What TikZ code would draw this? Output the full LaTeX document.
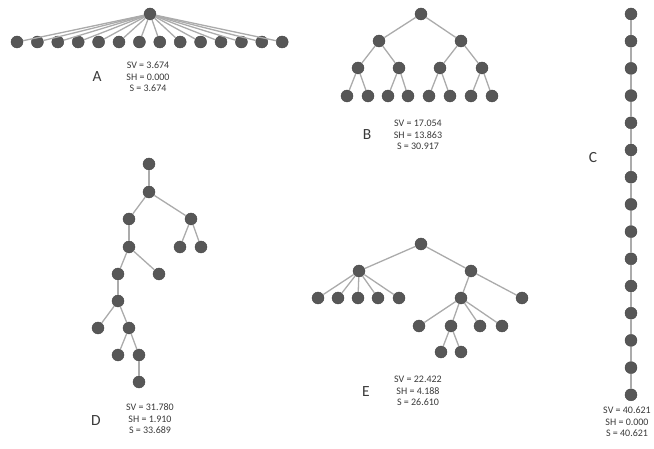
\documentclass[tikz,border=0pt]{standalone}
\usepackage{fontspec}
\setmainfont{Carlito}
\definecolor{vcol}{HTML}{575757}
\definecolor{ecol}{HTML}{ABABAB}
\definecolor{tcol}{HTML}{3A3A3A}
\begin{document}
\begin{tikzpicture}[x=1pt,y=-1pt,
 vtx/.style={circle,fill=vcol,draw=vcol!80!black,line width=0.4pt,minimum size=12pt,inner sep=0pt},
 edge/.style={draw=ecol,line width=1.3pt},
 tag/.style={font=\fontsize{15.5}{15.5}\selectfont,text=tcol,inner sep=0pt},
 stats/.style={font=\fontsize{10}{11.5}\selectfont,align=center,text=tcol,inner sep=0pt}]
\useasboundingbox (0,0) rectangle (654,449);
% ---------- A ----------
\node[vtx] (a0) at (150,14) {};
\foreach \i in {1,...,14} \node[vtx] (a\i) at ({17+(\i-1)*20.4},42) {};
\foreach \i in {1,...,14} \draw[edge] (a0) -- (a\i);
\node[tag] (la) at (97,77) {A};
\node[stats] (sa) at (148,77) {SV = 3.674\\SH = 0.000\\S = 3.674};
% ---------- B ----------
\node[vtx] (b0) at (421,14) {};
\node[vtx] (b1) at (379,41) {};
\node[vtx] (b2) at (461,41) {};
\node[vtx] (b3) at (358,68) {};
\node[vtx] (b4) at (399,68) {};
\node[vtx] (b5) at (440,68) {};
\node[vtx] (b6) at (482,68) {};
\node[vtx] (b7) at (347,96) {};
\node[vtx] (b8) at (368,96) {};
\node[vtx] (b9) at (388,96) {};
\node[vtx] (b10) at (408,96) {};
\node[vtx] (b11) at (429,96) {};
\node[vtx] (b12) at (450,96) {};
\node[vtx] (b13) at (471,96) {};
\node[vtx] (b14) at (492,96) {};
\foreach \p/\c in {b0/b1,b0/b2,b1/b3,b1/b4,b2/b5,b2/b6,b3/b7,b3/b8,b4/b9,b4/b10,b5/b11,b5/b12,b6/b13,b6/b14}
  \draw[edge] (\p) -- (\c);
\node[tag] (lb) at (367,135) {B};
\node[stats] (sb) at (418,135) {SV = 17.054\\SH = 13.863\\S = 30.917};
% ---------- C ----------
\foreach \i in {1,...,15} \node[vtx] (c\i) at (631,{14+(\i-1)*27.2}) {};
\foreach \i [evaluate=\i as \j using int(\i+1)] in {1,...,14} \draw[edge] (c\i) -- (c\j);
\node[tag] (lc) at (593,158) {C};
\node[stats] (sc) at (627,422) {SV = 40.621\\SH = 0.000\\S = 40.621};
% ---------- D ----------
\node[vtx] (d1) at (149,164) {};
\node[vtx] (d2) at (149,192) {};
\node[vtx] (d3) at (129,219) {};
\node[vtx] (d4) at (191,219) {};
\node[vtx] (d5) at (180,247) {};
\node[vtx] (d6) at (201,247) {};
\node[vtx] (d7) at (129,247) {};
\node[vtx] (d8) at (118,274) {};
\node[vtx] (d9) at (159,274) {};
\node[vtx] (d10) at (118,301) {};
\node[vtx] (d11) at (98,328) {};
\node[vtx] (d12) at (129,328) {};
\node[vtx] (d13) at (118,355) {};
\node[vtx] (d14) at (139,355) {};
\node[vtx] (d15) at (139,382) {};
\foreach \p/\c in {d1/d2,d2/d3,d2/d4,d4/d5,d4/d6,d3/d7,d7/d8,d7/d9,d8/d10,d10/d11,d10/d12,d12/d13,d12/d14,d14/d15}
  \draw[edge] (\p) -- (\c);
\node[tag] (ld) at (96,421) {D};
\node[stats] (sd) at (150,419) {SV = 31.780\\SH = 1.910\\S = 33.689};
% ---------- E ----------
\node[vtx] (e1) at (421,244) {};
\node[vtx] (e2) at (359,271) {};
\node[vtx] (e3) at (471,271) {};
\node[vtx] (e4) at (318,298) {};
\node[vtx] (e5) at (338,298) {};
\node[vtx] (e6) at (358,298) {};
\node[vtx] (e7) at (378,298) {};
\node[vtx] (e8) at (399,298) {};
\node[vtx] (e9) at (461,298) {};
\node[vtx] (e10) at (522,298) {};
\node[vtx] (e11) at (419,326) {};
\node[vtx] (e12) at (451,326) {};
\node[vtx] (e13) at (480,326) {};
\node[vtx] (e14) at (502,326) {};
\node[vtx] (e15) at (441,352) {};
\node[vtx] (e16) at (461,352) {};
\foreach \p/\c in {e1/e2,e1/e3,e2/e4,e2/e5,e2/e6,e2/e7,e2/e8,e3/e9,e3/e10,e9/e11,e9/e12,e9/e13,e9/e14,e12/e15,e12/e16}
  \draw[edge] (\p) -- (\c);
\node[tag] (le) at (366,392) {E};
\node[stats] (se) at (418,391) {SV = 22.422\\SH = 4.188\\S = 26.610};
\end{tikzpicture}
\end{document}
